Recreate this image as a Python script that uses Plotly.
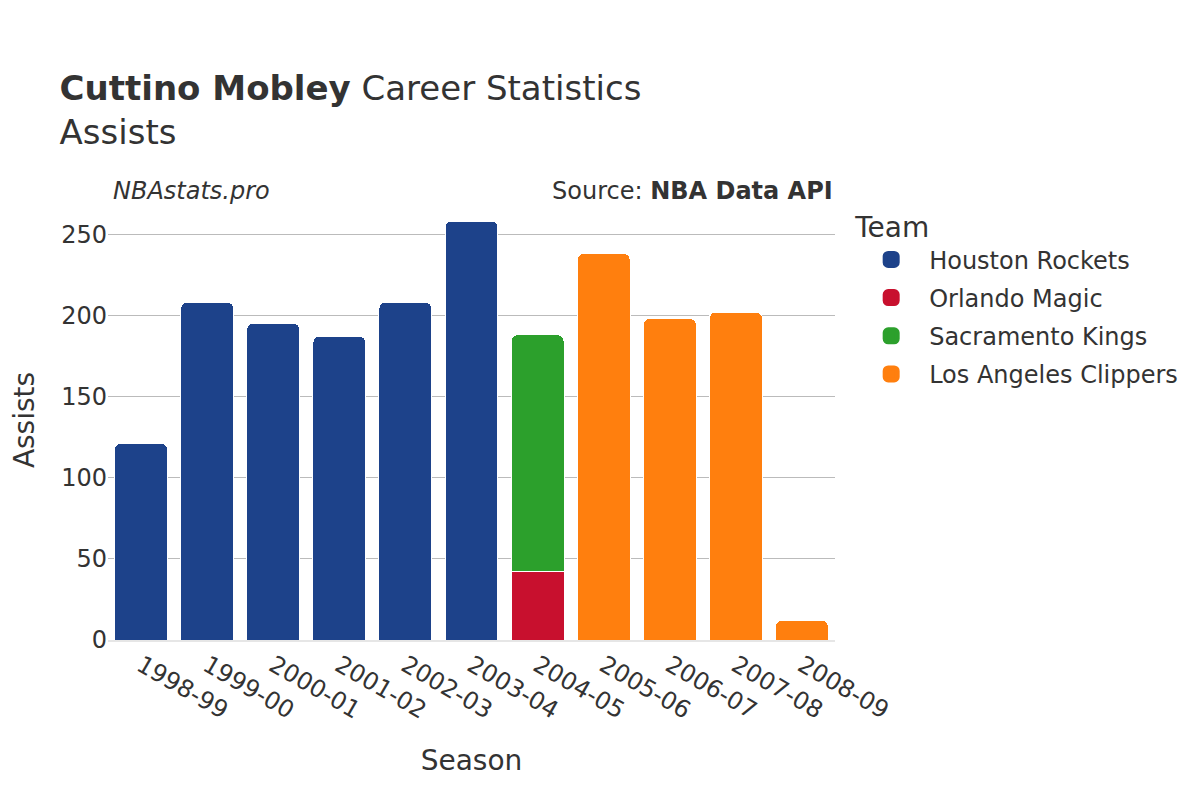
import plotly.graph_objects as go

seasons = ["1998-99", "1999-00", "2000-01", "2001-02", "2002-03", "2003-04",
           "2004-05", "2005-06", "2006-07", "2007-08", "2008-09"]

teams = ["Houston Rockets", "Orlando Magic", "Sacramento Kings", "Los Angeles Clippers"]
colors = {"Houston Rockets": "#1d428a", "Orlando Magic": "#c8102e",
          "Sacramento Kings": "#2ca02c", "Los Angeles Clippers": "#ff7f0e"}

houston_seasons = ["1998-99", "1999-00", "2000-01", "2001-02", "2002-03", "2003-04"]
houston_ast = [121, 208, 195, 187, 208, 258]
orlando_seasons = ["2004-05"]
orlando_ast = [42]
sacramento_seasons = ["2004-05"]
sacramento_ast = [146]
clippers_seasons = ["2005-06", "2006-07", "2007-08", "2008-09"]
clippers_ast = [238, 198, 202, 12]

series = [
    ("Houston Rockets", houston_seasons, houston_ast),
    ("Orlando Magic", orlando_seasons, orlando_ast),
    ("Sacramento Kings", sacramento_seasons, sacramento_ast),
    ("Los Angeles Clippers", clippers_seasons, clippers_ast),
]

fig = go.Figure()
for name, xs, ys in series:
    fig.add_trace(go.Bar(x=xs, y=ys, name=name, legendgroup=name, showlegend=False,
                         marker=dict(color=colors[name], line=dict(color="white", width=1))))
# legend entries (larger rounded swatches)
for name in teams:
    fig.add_trace(go.Bar(x=[None], y=[None], name=name, legendgroup=name, showlegend=True,
                         marker=dict(color=colors[name], line=dict(color=colors[name], width=14))))

font = "DejaVu Sans, Verdana, sans-serif"
fig.update_layout(
    barmode="stack",
    barcornerradius=6,
    bargap=0.2,
    width=1200, height=800,
    paper_bgcolor="white", plot_bgcolor="white",
    font=dict(family=font, color="#333333", size=16),
    margin=dict(l=100, r=373, t=192, b=168, autoexpand=False),
    title=dict(
        text="<b>Cuttino Mobley</b> Career Statistics<br>Assists",
        x=0.043, xanchor="left", y=0.885, yanchor="middle",
        font=dict(size=34, color="#333333", family=font),
    ),
    xaxis=dict(
        type="category",
        title=dict(text="Season", font=dict(size=28), standoff=27),
        categoryorder="array", categoryarray=seasons,
        tickangle=30, tickfont=dict(size=24),
        showgrid=False, linecolor="#e6e6e6", linewidth=2, showline=True,
        automargin=False,
    ),
    yaxis=dict(
        title=dict(text="Assists", font=dict(size=28), standoff=40),
        range=[0, 271],
        tickvals=[0, 50, 100, 150, 200, 250],
        tickfont=dict(size=24),
        gridcolor="#bbbbbb", gridwidth=1, zeroline=False,
        automargin=True,
    ),
    legend=dict(
        title=dict(text="Team", font=dict(size=28)),
        font=dict(size=24),
        x=1.025, xanchor="left", y=0.998, yanchor="top",
        itemwidth=66,
        traceorder="grouped", tracegroupgap=4,
    ),
    annotations=[
        dict(text="<i>NBAstats.pro</i>", x=0.0, y=1.02, xref="paper", yref="paper", xshift=3,
             xanchor="left", yanchor="middle", showarrow=False, font=dict(size=24, color="#333333")),
        dict(text="Source: <b>NBA Data API</b>", x=1.0, y=1.02, xref="paper", yref="paper",
             xanchor="right", yanchor="middle", showarrow=False, font=dict(size=24, color="#333333")),
    ],
)

fig.write_html("out.html")
